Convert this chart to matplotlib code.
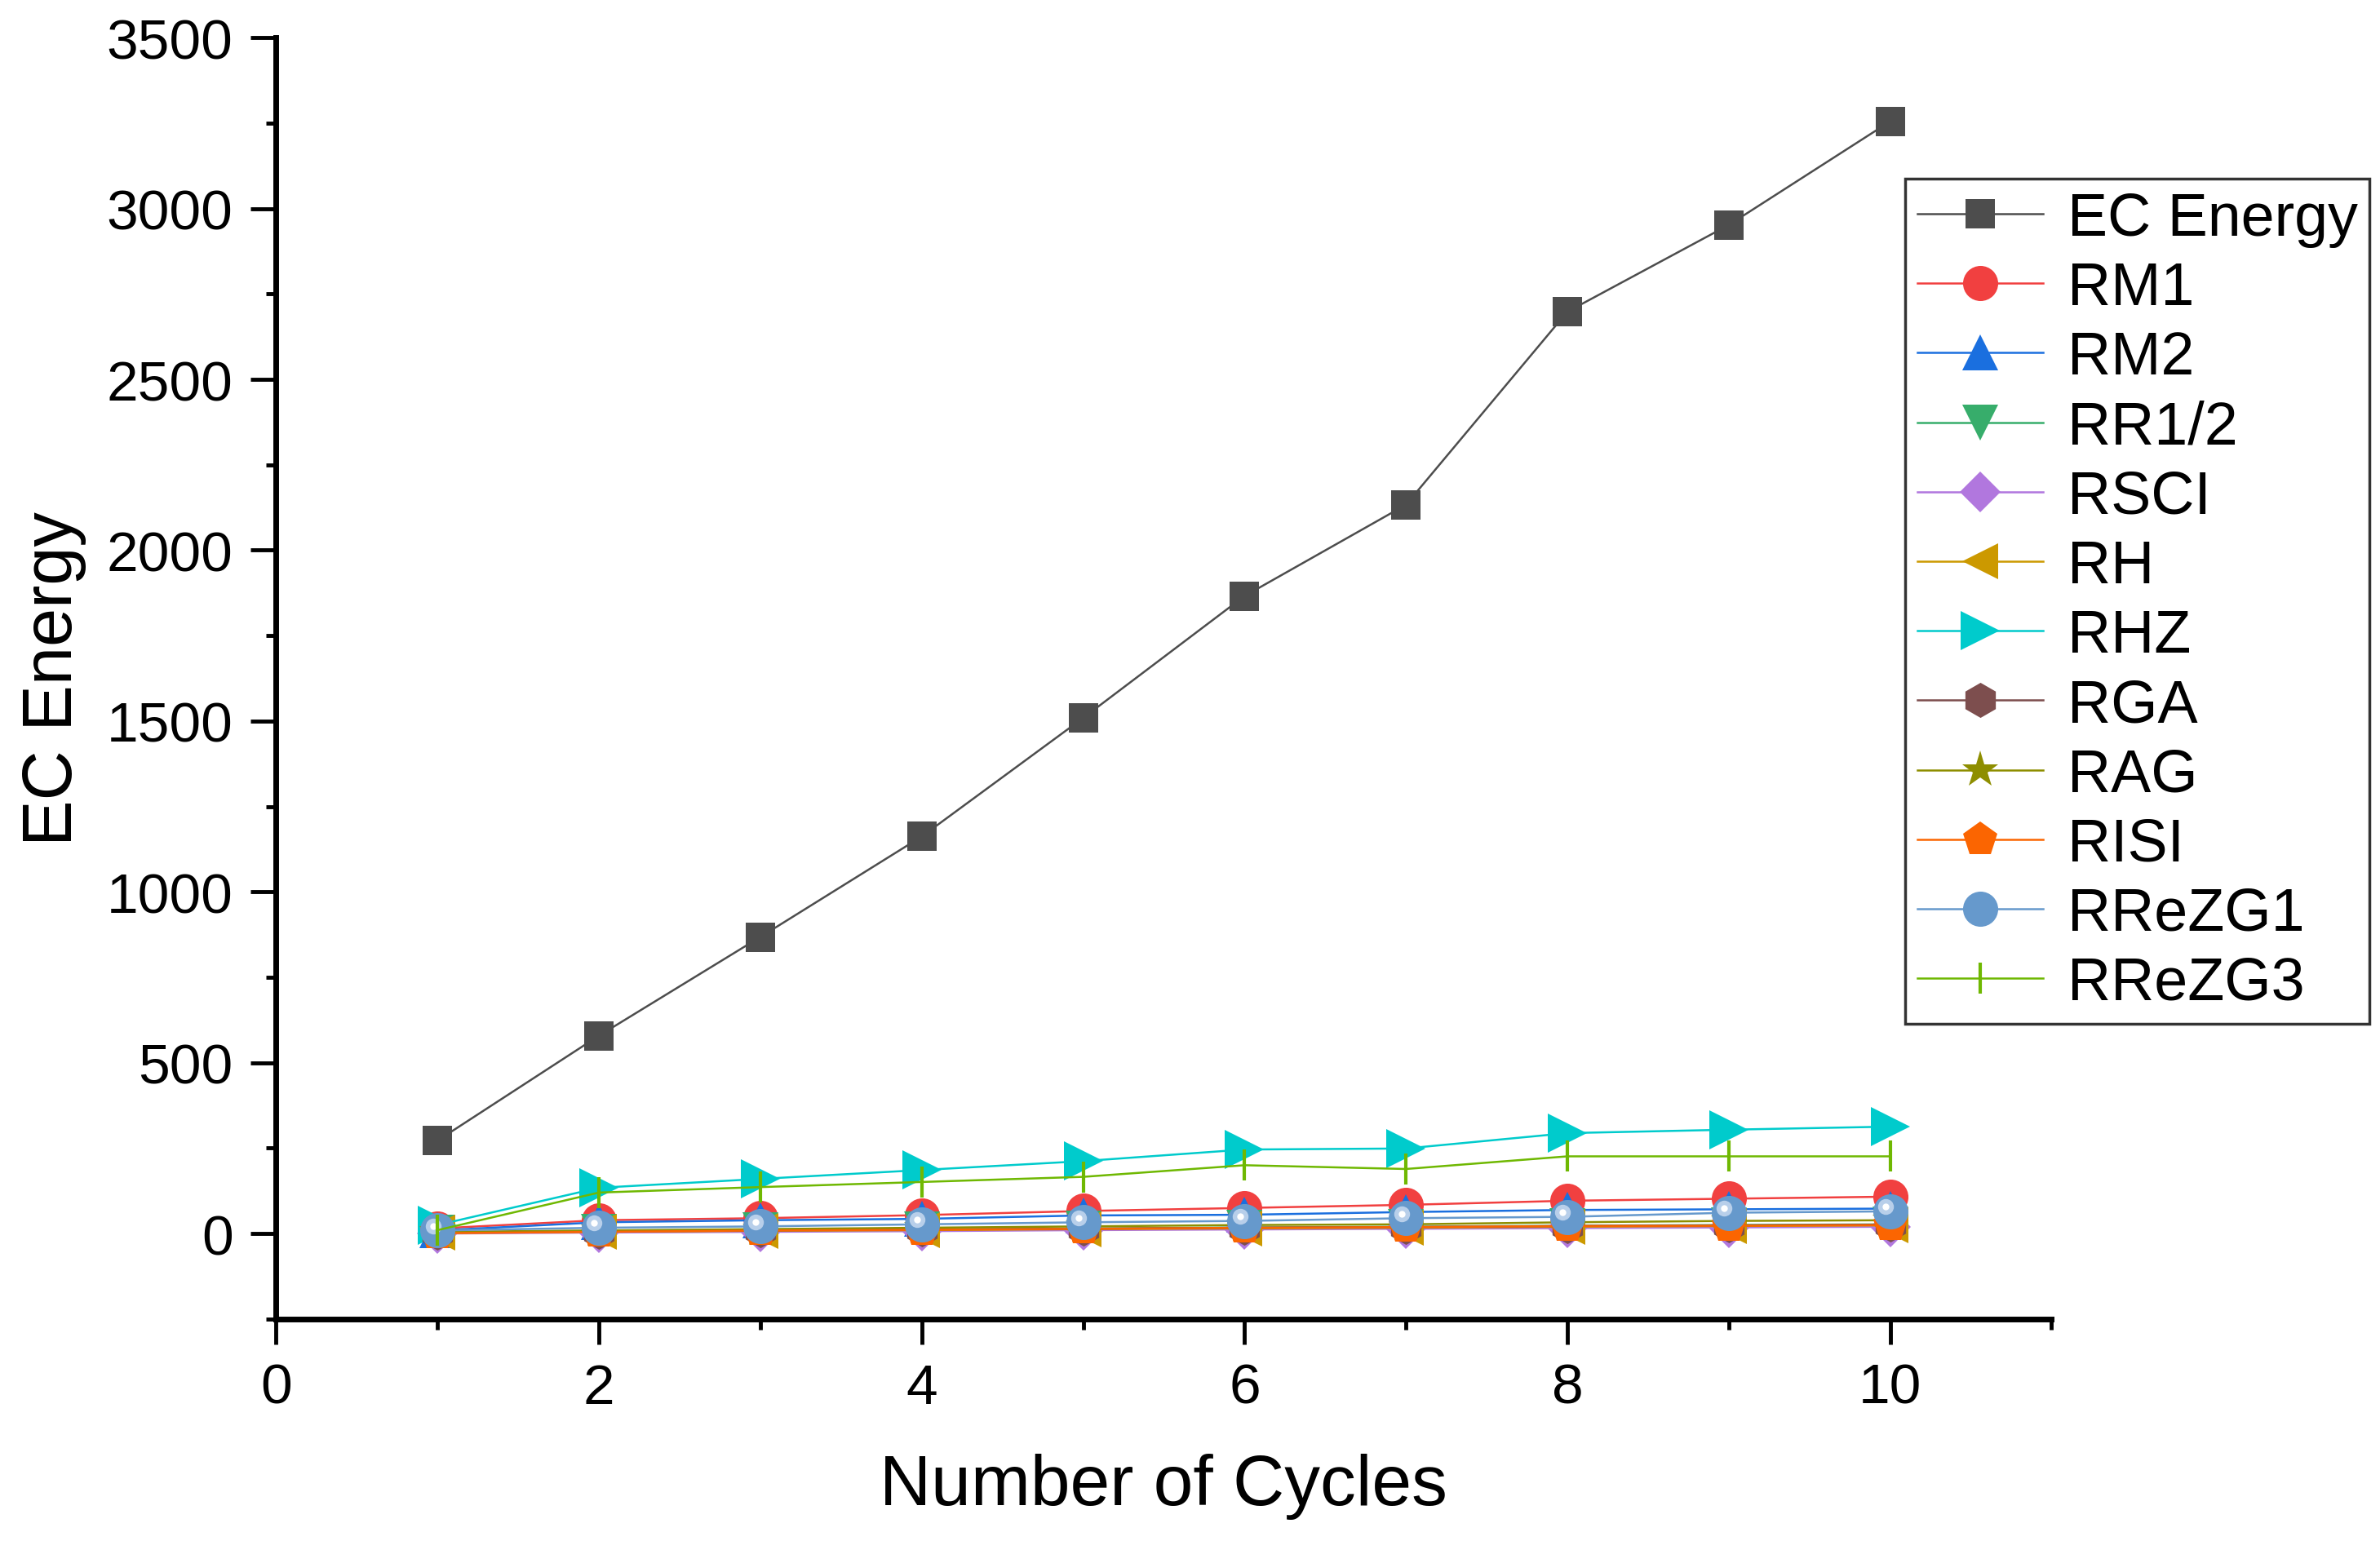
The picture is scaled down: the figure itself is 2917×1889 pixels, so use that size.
import matplotlib.pyplot as plt
from matplotlib.ticker import MultipleLocator
from matplotlib import transforms

plt.rcParams["font.family"] = ["Liberation Sans", "DejaVu Sans"]

cycles = [1, 2, 3, 4, 5, 6, 7, 8, 9, 10]

ec_energy = [272, 579, 868, 1162, 1509, 1866, 2133, 2698, 2952, 3255]
rm1 = [15, 39, 45, 54, 66, 75, 84, 96, 102, 108]
rm2 = [9, 33, 39, 43, 53, 55, 63, 69, 71, 73]
rr12 = [3, 6, 9, 12, 15, 18, 20, 23, 25, 27]
rsci = [0, 3, 5, 7, 10, 12, 14, 16, 18, 20]
rh = [2, 5, 8, 10, 13, 15, 17, 20, 22, 24]
rhz = [25, 134, 160, 186, 212, 246, 249, 294, 304, 313]
rga = [3, 6, 9, 12, 14, 17, 19, 22, 24, 26]
rag = [5, 9, 13, 17, 21, 25, 27, 33, 37, 39]
risi = [1, 5, 9, 11, 14, 17, 19, 22, 23, 25]
rrezg1 = [9, 17, 21, 27, 33, 37, 45, 49, 61, 65]
rrezg3 = [10, 120, 136, 151, 166, 200, 189, 226, 226, 226]

series = [
    ("EC Energy", ec_energy, "#4D4D4D", "s", 26),
    ("RM1", rm1, "#F14040", "o", 31),
    ("RM2", rm2, "#1A6FDF", "^", 32),
    ("RR1/2", rr12, "#37AD6B", "v", 32),
    ("RSCI", rsci, "#B177DE", "D", 25),
    ("RH", rh, "#CC9900", "<", 32),
    ("RHZ", rhz, "#00CBCC", ">", 35),
    ("RGA", rga, "#7D4E4E", "h", 31),
    ("RAG", rag, "#8E8E00", "*", 34),
    ("RISI", risi, "#FB6501", "p", 32),
    ("RReZG1", rrezg1, "#6699CC", "o", 31),
    ("RReZG3", rrezg3, "#6FB802", "|", 27),
]

fig = plt.figure(figsize=(29.17, 18.90), dpi=100)
ax = fig.add_axes([0.116, 0.144, 0.746, 0.831])

for name, vals, color, marker, ms in series:
    mew = 3 if marker == "|" else 0
    ax.plot(cycles, vals, color=color, marker=marker, markersize=ms,
            markeredgewidth=mew, markeredgecolor=color, linewidth=1.8,
            label=name)
    if name == "RReZG1":
        # glossy highlight on the sphere markers
        off = transforms.offset_copy(ax.transData, fig=fig, x=-4, y=4, units="points")
        ax.plot(cycles, vals, linestyle="none", marker="o", markersize=14,
                markeredgewidth=0, color="#B8CFEA", transform=off)
        ax.plot(cycles, vals, linestyle="none", marker="o", markersize=6,
                markeredgewidth=0, color="white", transform=off)

ax.set_xlim(0, 11)
ax.set_ylim(-250, 3500)
ax.xaxis.set_major_locator(MultipleLocator(2))
ax.xaxis.set_minor_locator(MultipleLocator(1))
ax.yaxis.set_major_locator(MultipleLocator(500))
ax.yaxis.set_minor_locator(MultipleLocator(250))
ax.set_yticks([0, 500, 1000, 1500, 2000, 2500, 3000, 3500])

for s in ["top", "right"]:
    ax.spines[s].set_visible(False)
ax.spines["left"].set_linewidth(5)
ax.spines["bottom"].set_linewidth(5)

ax.tick_params(which="major", direction="out", length=22, width=3.5,
               labelsize=50, pad=16)
ax.tick_params(which="minor", direction="out", length=9, width=3.5)

ax.set_xlabel("Number of Cycles", fontsize=63, labelpad=34)
ax.set_ylabel("EC Energy", fontsize=61, labelpad=18)

leg = ax.legend(loc="upper left", bbox_to_anchor=(2335 / 2917, 1 - 220 / 1890),
                bbox_transform=fig.transFigure, fontsize=53, frameon=True,
                fancybox=False, edgecolor="black", borderpad=0.2,
                labelspacing=0.22, handlelength=2.1, handletextpad=0.4,
                borderaxespad=0)
leg.get_frame().set_linewidth(2.5)

fig.savefig("out.png", dpi=100)
